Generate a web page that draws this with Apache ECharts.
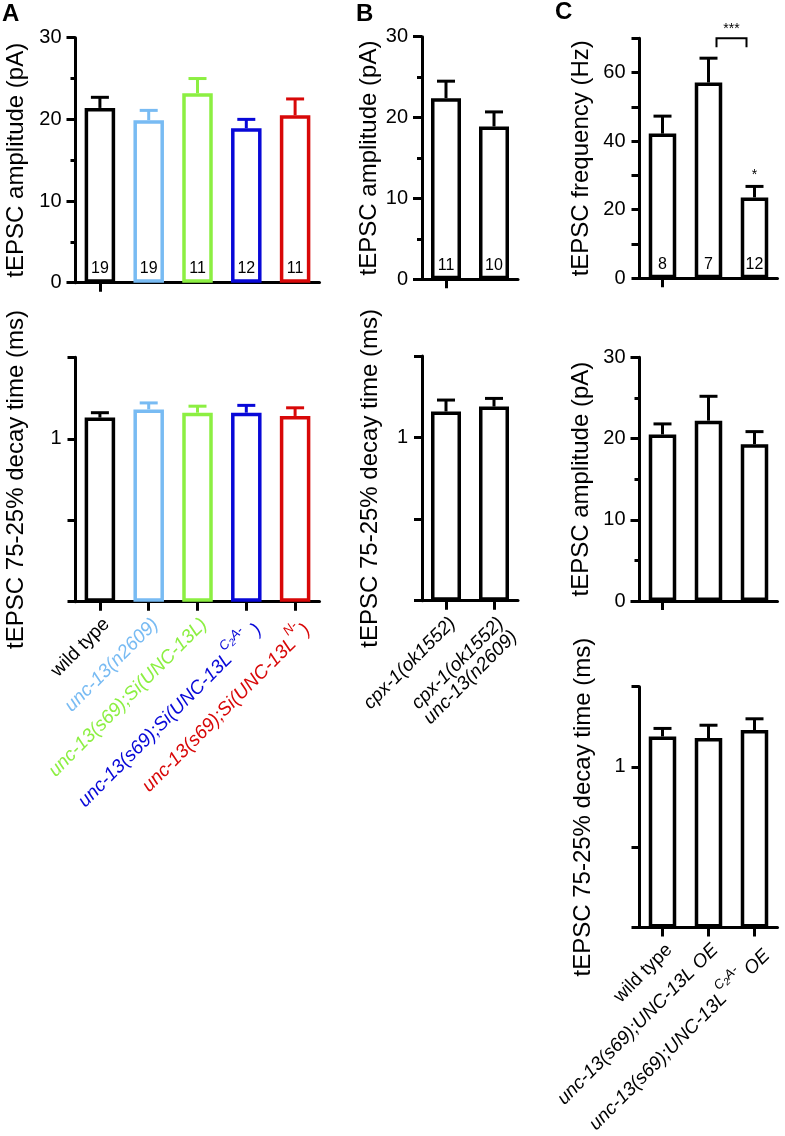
<!DOCTYPE html>
<html><head><meta charset="utf-8">
<script src="https://cdn.jsdelivr.net/npm/echarts@6/dist/echarts.min.js"></script>
<style>html,body{margin:0;padding:0;background:#fff}#c{width:785px;height:1136px}</style>
</head><body><div id="c"></div>
<script>
const FONT = '"Liberation Sans", Arial, Helvetica, sans-serif';

// ---- Panel A ----
const catsA = ['wild type', 'unc-13(n2609)', 'unc-13(s69);Si(UNC-13L)', 'unc-13(s69);Si(UNC-13L C2A- )', 'unc-13(s69);Si(UNC-13L N-)'];
const labelsA = ['{n|wild type}', '{i|unc-13(n2609)}', '{i|unc-13(s69);Si(UNC-13L)}',
  '{i|unc-13(s69);Si(UNC-13L}{sup|C}{sub|2}{sup|A-  }{i|)}', '{i|unc-13(s69);Si(UNC-13L}{sup|N-}{i|)}'];
const colorsA = ['#000000', '#78bbf3', '#8cef42', '#0808d8', '#d80808'];
const ampA = [21.4, 19.9, 23.2, 18.9, 20.5];
const ampAErr = [1.3, 1.2, 1.8, 1.1, 2.0];
const nA = [19, 19, 11, 12, 11];
const decayA = [1.13, 1.18, 1.16, 1.16, 1.14];
const decayAErr = [0.03, 0.04, 0.04, 0.045, 0.05];

// ---- Panel B ----
const catsB = ['cpx-1(ok1552)', 'cpx-1(ok1552) unc-13(n2609)'];
const labelsB = ['{i|cpx-1(ok1552)}', '{i|cpx-1(ok1552)}\n{i|unc-13(n2609)}'];
const colorsB = ['#000000', '#000000'];
const ampB = [22.4, 18.9];
const ampBErr = [2.1, 1.8];
const nB = [11, 10];
const decayB = [1.16, 1.19];
const decayBErr = [0.07, 0.05];

// ---- Panel C ----
const catsC = ['wild type', 'unc-13(s69);UNC-13L OE', 'unc-13(s69);UNC-13L C2A- OE'];
const labelsC = ['{n|wild type}', '{i|unc-13(s69);UNC-13L OE}', '{i|unc-13(s69);UNC-13L}{sup|C}{sub|2}{sup|A-}{i| OE}'];
const colorsC = ['#000000', '#000000', '#000000'];
const freqC = [42.2, 57.1, 23.6];
const freqCErr = [5.1, 7.1, 3.2];
const nC = [8, 7, 12];
const ampC = [20.5, 22.2, 19.3];
const ampCErr = [1.3, 3.0, 1.55];
const decayC = [1.19, 1.18, 1.23];
const decayCErr = [0.05, 0.08, 0.07];
const sigPairC = [[1, 2]];
const sigPairTextC = ['***'];
const sigBarTextC = ['', '', '*'];

const RICH = {
  n: {fontSize: 19, fontStyle: 'normal', fontFamily: FONT, verticalAlign: 'bottom'},
  i: {fontSize: 19, fontStyle: 'italic', fontFamily: FONT, verticalAlign: 'bottom'},
  sup: {fontSize: 13, fontStyle: 'italic', fontFamily: FONT, verticalAlign: 'bottom', padding: [0, 0, 14, 0]},
  sub: {fontSize: 10, fontStyle: 'italic', fontFamily: FONT, verticalAlign: 'bottom', padding: [0, 0, 12, 0]}
};

const grids = [], xAxes = [], yAxes = [], series = [];

function errRender(params, api) {
  const x = api.value(0), m = api.value(1), e = api.value(2);
  const p0 = api.coord([x, m]), p1 = api.coord([x, m + e]);
  const hw = 9;
  const color = api.visual('color');
  return {type: 'group', children: [
    {type: 'line', shape: {x1: p0[0], y1: p0[1], x2: p1[0], y2: p1[1]}, style: {stroke: color, lineWidth: 3}},
    {type: 'line', shape: {x1: p1[0] - hw, y1: p1[1], x2: p1[0] + hw, y2: p1[1]}, style: {stroke: color, lineWidth: 3}}
  ]};
}

function panel(cfg) {
  const gi = grids.length;
  grids.push({left: cfg.left, top: cfg.top, width: cfg.width, height: cfg.height, containLabel: false});
  xAxes.push({
    type: 'category', gridIndex: gi,
    data: cfg.cats.map((c, i) => ({value: c, textStyle: {color: cfg.colors[i], align: 'right', verticalAlign: 'top'}})),
    axisLine: {show: true, lineStyle: {color: '#000', width: 3}},
    axisTick: {show: true, alignWithLabel: true, length: 9, lineStyle: {width: 3, color: '#000'}},
    axisLabel: cfg.labels ? {show: true, interval: 0, rotate: 45, margin: 13, verticalAlign: 'top', align: 'right',
      fontSize: 19, fontFamily: FONT, formatter: (v, i) => cfg.labels[i], rich: RICH} : {show: false},
    splitLine: {show: false}
  });
  yAxes.push({
    type: 'value', gridIndex: gi, min: cfg.min, max: cfg.max, interval: cfg.interval,
    name: cfg.name, nameLocation: 'middle', nameGap: cfg.nameGap,
    nameTextStyle: {fontSize: 24, fontFamily: FONT, color: '#000'},
    axisLine: {show: true, lineStyle: {color: '#000', width: 3}},
    axisTick: {show: true, length: cfg.tickLen || 9, lineStyle: {width: 3, color: '#000'}},
    minorTick: cfg.minor ? {show: true, splitNumber: 2, length: 5, lineStyle: {width: 3, color: '#000'}} : {show: false},
    axisLabel: {fontSize: 20, fontFamily: FONT, color: '#000', margin: 14, formatter: cfg.fmt},
    splitLine: {show: false}, minorSplitLine: {show: false}
  });
  series.push({
    type: 'bar', xAxisIndex: gi, yAxisIndex: gi, barWidth: cfg.barWidth, silent: true, z: 2,
    data: cfg.means.map((v, i) => ({value: v, itemStyle: {color: '#fff', borderColor: cfg.colors[i], borderWidth: 3.5}})),
    label: cfg.ns ? {show: true, position: 'insideBottom', distance: 6, fontSize: 16, fontFamily: FONT, color: '#000',
      formatter: p => String(cfg.ns[p.dataIndex])} : {show: false}
  });
  series.push({
    type: 'custom', xAxisIndex: gi, yAxisIndex: gi, renderItem: errRender, silent: true, z: 3,
    data: cfg.means.map((v, i) => ({value: [i, v, cfg.errs[i]], itemStyle: {color: cfg.colors[i]}}))
  });
  return gi;
}

const fmtAmp = v => String(v);
const fmtDecay = v => (v === 1 ? '1' : '');
const fmtFreq = v => (v % 20 === 0 ? String(v) : '');

// A
panel({left: 75.5, top: 37.7, width: 244, height: 245, cats: catsA, colors: colorsA, means: ampA, errs: ampAErr, ns: nA,
  min: 0, max: 30, interval: 10, minor: true, fmt: fmtAmp, name: 'tEPSC amplitude (pA)', nameGap: 47, barWidth: 30.5});
panel({left: 75.5, top: 357.3, width: 244, height: 244.4, cats: catsA, colors: colorsA, means: decayA, errs: decayAErr, labels: labelsA,
  min: 0, max: 1.5, interval: 0.5, tickLen: 8, fmt: fmtDecay, name: 'tEPSC 75-25% decay time (ms)', nameGap: 47, barWidth: 30.5});
// B
panel({left: 422, top: 36.7, width: 96, height: 242.6, cats: catsB, colors: colorsB, means: ampB, errs: ampBErr, ns: nB,
  min: 0, max: 30, interval: 10, minor: true, fmt: fmtAmp, name: 'tEPSC amplitude (pA)', nameGap: 40, barWidth: 30});
panel({left: 422, top: 356, width: 96, height: 244.7, cats: catsB, colors: colorsB, means: decayB, errs: decayBErr, labels: labelsB,
  min: 0, max: 1.5, interval: 0.5, tickLen: 8, fmt: fmtDecay, name: 'tEPSC 75-25% decay time (ms)', nameGap: 40, barWidth: 30});
// C
const gFreq = panel({left: 639.5, top: 38.3, width: 138, height: 240, cats: catsC, colors: colorsC, means: freqC, errs: freqCErr, ns: nC,
  min: 0, max: 70, interval: 10, tickLen: 8, fmt: fmtFreq, name: 'tEPSC frequency (Hz)', nameGap: 46, barWidth: 27.5});
panel({left: 639.5, top: 357.3, width: 138, height: 243.7, cats: catsC, colors: colorsC, means: ampC, errs: ampCErr,
  min: 0, max: 30, interval: 10, minor: true, fmt: fmtAmp, name: 'tEPSC amplitude (pA)', nameGap: 46, barWidth: 27.5});
panel({left: 639.5, top: 686.7, width: 138, height: 243.3, cats: catsC, colors: colorsC, means: decayC, errs: decayCErr, labels: labelsC,
  min: 0, max: 1.5, interval: 0.5, tickLen: 8, fmt: fmtDecay, name: 'tEPSC 75-25% decay time (ms)', nameGap: 44, barWidth: 27.5});

// significance bracket (C frequency)
series.push({
  type: 'custom', xAxisIndex: gFreq, yAxisIndex: gFreq, silent: true, z: 4,
  data: sigPairC.map((p, k) => ({value: [p[0], p[1], 70]})),
  renderItem: function (params, api) {
    const a = api.coord([api.value(0), api.value(2)]);
    const b = api.coord([api.value(1), api.value(2)]);
    const inset = 8, leg = 9;
    return {type: 'group', children: [
      {type: 'polyline', shape: {points: [[a[0] + inset, a[1] + leg], [a[0] + inset, a[1]], [b[0] - inset, b[1]], [b[0] - inset, b[1] + leg]]},
        style: {stroke: '#000', lineWidth: 2, fill: null}},
      {type: 'text', style: {text: sigPairTextC[params.dataIndex], x: (a[0] + b[0]) / 2, y: a[1] - 9, align: 'center', verticalAlign: 'middle',
        fontSize: 14, fontFamily: FONT, fill: '#000'}}
    ]};
  }
});
series.push({
  type: 'custom', xAxisIndex: gFreq, yAxisIndex: gFreq, silent: true, z: 4,
  data: freqC.map((v, i) => [i, v + freqCErr[i]]),
  renderItem: function (params, api) {
    const p = api.coord([api.value(0), api.value(1)]);
    return {type: 'text', style: {text: sigBarTextC[params.dataIndex], x: p[0], y: p[1] - 11, align: 'center', verticalAlign: 'middle',
      fontSize: 14, fontFamily: FONT, fill: '#000'}};
  }
});

const chart = echarts.init(document.getElementById('c'), null, {renderer: 'canvas'});
chart.setOption({
  backgroundColor: '#fff',
  animation: false,
  title: [
    {text: 'A', left: 2, top: 2, padding: 0, textStyle: {fontSize: 24, fontWeight: 'bold', fontFamily: FONT, color: '#000'}},
    {text: 'B', left: 356, top: 2, padding: 0, textStyle: {fontSize: 24, fontWeight: 'bold', fontFamily: FONT, color: '#000'}},
    {text: 'C', left: 555, top: 0, padding: 0, textStyle: {fontSize: 24, fontWeight: 'bold', fontFamily: FONT, color: '#000'}}
  ],
  grid: grids, xAxis: xAxes, yAxis: yAxes, series: series
});
</script></body></html>
